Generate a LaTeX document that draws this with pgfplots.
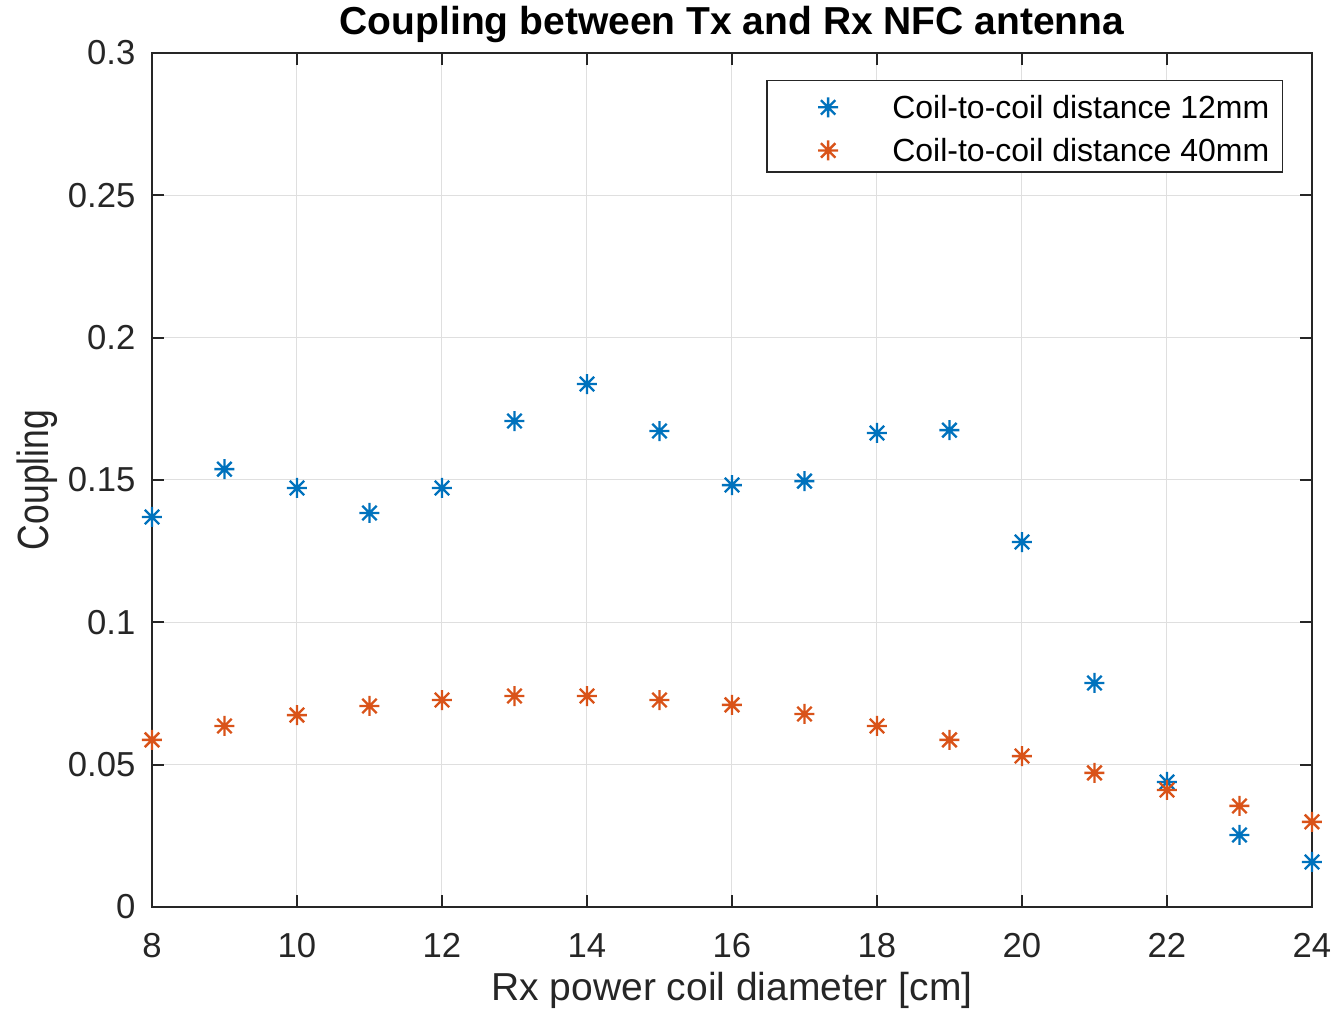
\documentclass[border=0pt]{standalone}
\usepackage{fontspec}
\setmainfont{Liberation Sans}
\usepackage{pgfplots}
\pgfplotsset{compat=1.18}
\definecolor{mblue}{RGB}{0,114,189}
\definecolor{morange}{RGB}{217,83,25}
\definecolor{axgray}{RGB}{38,38,38}
\definecolor{gridgray}{RGB}{223,223,223}
\pgfdeclareplotmark{mstar}{%
  \pgfpathmoveto{\pgfqpoint{0pt}{\pgfplotmarksize}}%
  \pgfpathlineto{\pgfqpoint{0pt}{-\pgfplotmarksize}}%
  \pgfpathmoveto{\pgfqpoint{\pgfplotmarksize}{0pt}}%
  \pgfpathlineto{\pgfqpoint{-\pgfplotmarksize}{0pt}}%
  \pgfpathmoveto{\pgfqpoint{0.72\pgfplotmarksize}{0.72\pgfplotmarksize}}%
  \pgfpathlineto{\pgfqpoint{-0.72\pgfplotmarksize}{-0.72\pgfplotmarksize}}%
  \pgfpathmoveto{\pgfqpoint{-0.72\pgfplotmarksize}{0.72\pgfplotmarksize}}%
  \pgfpathlineto{\pgfqpoint{0.72\pgfplotmarksize}{-0.72\pgfplotmarksize}}%
  \pgfusepathqstroke}
\begin{document}
\begin{tikzpicture}
\begin{axis}[
  name=ax,
  scale only axis,
  width=348pt, height=256.2pt,
  xmin=8, xmax=24, ymin=0, ymax=0.3,
  xtick={8,10,...,24},
  ytick={0,0.05,0.1,0.15,0.2,0.25,0.3},
  tick pos=both,
  tick align=inside,
  major tick length=3.6pt,
  grid=major,
  major grid style={gridgray, line width=0.3pt},
  axis line style={axgray, line width=0.6pt},
  every tick/.style={axgray, line width=0.6pt},
  tick label style={font=\fontsize{10.4}{12}\selectfont, text=axgray},
  /pgf/number format/assume math mode=true,
  yticklabel style={/pgf/number format/fixed, /pgf/number format/precision=2, inner sep=0pt, xshift=-4.8pt},
  xticklabel style={inner sep=0pt, yshift=-7.8pt},
  xlabel={Rx power coil diameter [cm]},
  xlabel style={font=\fontsize{11.7}{13}\selectfont, text=axgray, at={(axis description cs:0.5,-0.1101)}, anchor=base, inner sep=0pt},
  ylabel={\scalebox{0.91}[1.12]{Coupling}},
  ylabel style={font=\fontsize{11.7}{13}\selectfont, text=axgray, at={(axis description cs:-0.0896,0.5)}, anchor=base, inner sep=0pt},
  legend style={at={(axis description cs:1,1)}, anchor=north east, xshift=-8.7pt, yshift=-8.1pt,
     draw=axgray, line width=0.4pt, font=\fontsize{9.6}{11}\selectfont,
     inner xsep=3.9pt, inner ysep=3pt, row sep=4.5pt, column sep=0pt,
     nodes={inner sep=0pt, text height=6.9pt, text depth=0pt}},
  legend cell align=left,
  legend image code/.code={\path (-13.5pt,4.65pt) (19.5pt,0pt); \path[#1] plot coordinates {(0.6pt,0pt)};},
]
\addplot[only marks, mark=mstar, mark size=3pt, mblue, line width=0.7pt] coordinates {
(8,0.137) (9,0.1538) (10,0.1472) (11,0.1384) (12,0.1472) (13,0.1707) (14,0.1837) (15,0.1672)
(16,0.1482) (17,0.1496) (18,0.1665) (19,0.1675) (20,0.1282) (21,0.0787) (22,0.0439) (23,0.0253) (24,0.0158)};
\addlegendentry{Coil-to-coil distance 12mm}
\addplot[only marks, mark=mstar, mark size=3pt, morange, line width=0.7pt] coordinates {
(8,0.0587) (9,0.0636) (10,0.0674) (11,0.0706) (12,0.0727) (13,0.0741) (14,0.0741) (15,0.0727)
(16,0.0710) (17,0.0678) (18,0.0636) (19,0.0587) (20,0.0530) (21,0.0471) (22,0.0411) (23,0.0355) (24,0.0299)};
\addlegendentry{Coil-to-coil distance 40mm}
\end{axis}
\node[anchor=base, inner sep=0pt, font=\bfseries\fontsize{11.7}{13}\selectfont] at ([yshift=5.4pt]ax.north) {Coupling between Tx and Rx NFC antenna};
\pgfresetboundingbox
\path[use as bounding box] ([shift={(-45.6pt,-30.9pt)}]ax.south west) rectangle ([shift={(6pt,15.9pt)}]ax.north east);
\end{tikzpicture}
\end{document}
